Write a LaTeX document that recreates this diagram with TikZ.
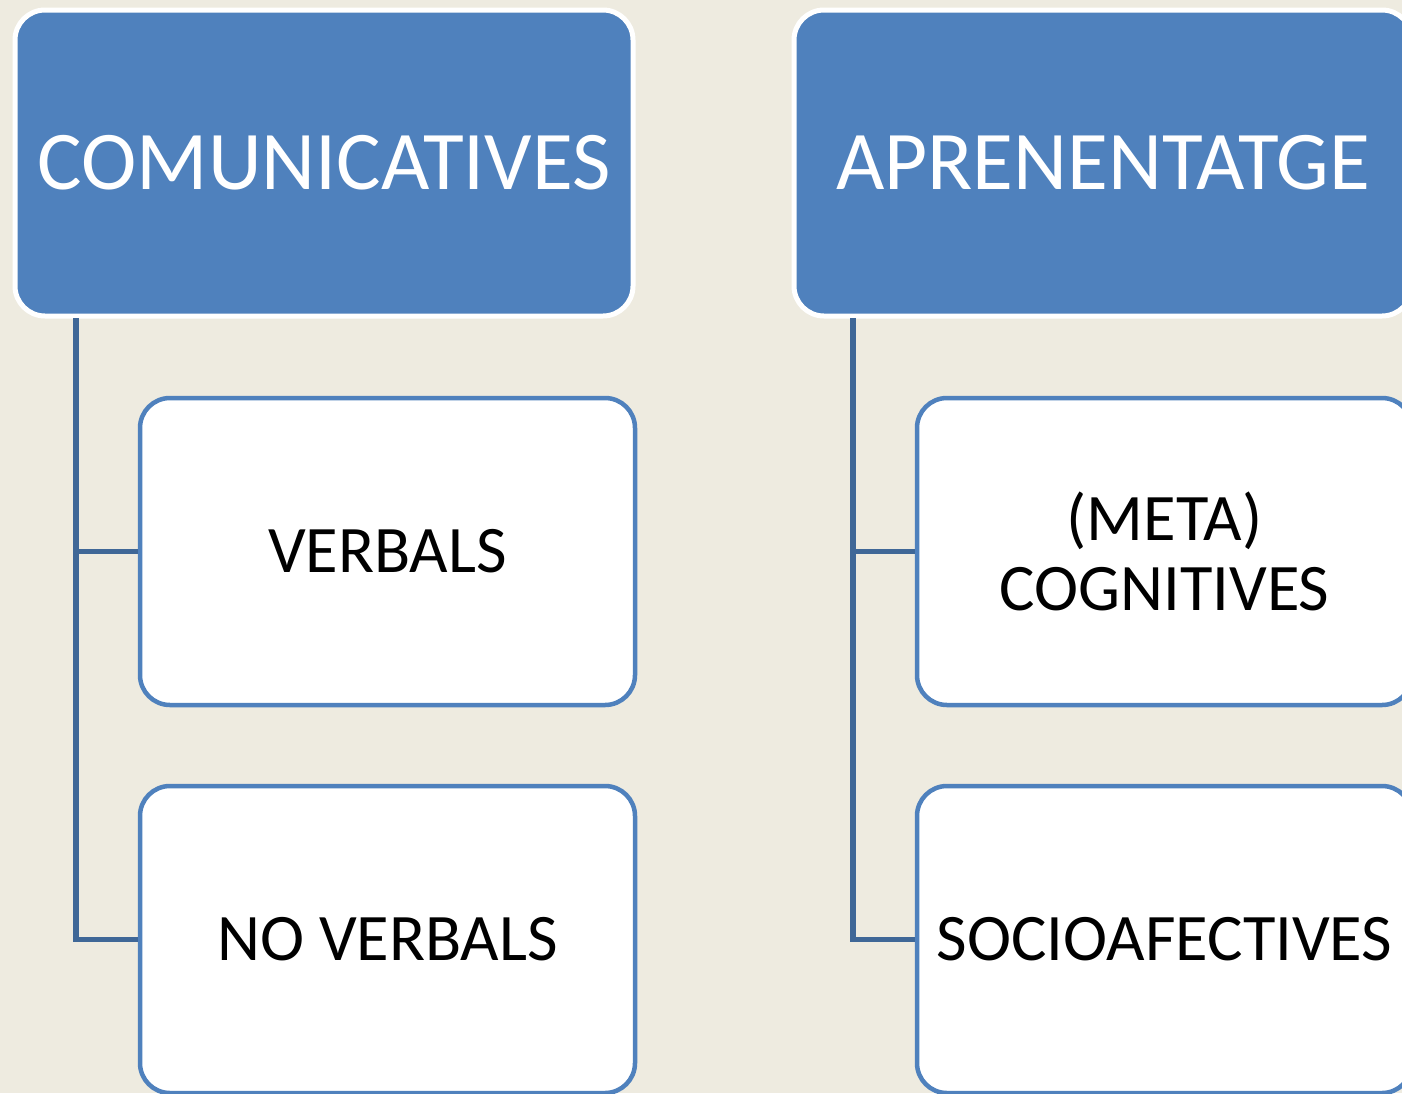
\documentclass[tikz,border=0pt]{standalone}
\usepackage{fontspec}
\setmainfont{Carlito}
\definecolor{bg}{HTML}{EEEBE0}
\definecolor{topblue}{HTML}{4F81BD}
\definecolor{linkblue}{HTML}{3F6797}
\begin{document}
\begin{tikzpicture}[x=1pt,y=-1pt,
  topbox/.style={draw=white,line width=5pt,fill=topblue,rounded corners=30pt,
    minimum width=618pt,minimum height=306pt,inner sep=0pt,text=white,
    font=\fontsize{83.5}{86}\selectfont},
  childbox/.style={draw=topblue,line width=4.5pt,fill=white,rounded corners=30pt,
    minimum width=495pt,minimum height=307pt,inner sep=0pt,text=black,align=center,
    font=\fontsize{66.5}{70}\selectfont},
  link/.style={draw=linkblue,line width=5.5pt}]
\useasboundingbox (0,0) rectangle (1402,1093);
\fill[bg] (0,0) rectangle (1402,1093);
\begin{scope}
\clip (0,0) rectangle (1402,1093);
\node[topbox] (com) at (324,163) {COMUNICATIVES};
\node[topbox] (apr) at (1103,163) {APRENENTATGE};
\coordinate (comstem) at (76,318);
\coordinate (aprstem) at (853,318);
\node[childbox] (verb) at (387.5,551.5) {VERBALS};
\node[childbox] (noverb) at (387.5,939.5) {NO VERBALS};
\node[childbox] (meta) at (1164.5,551.5) {(META)\\COGNITIVES};
\node[childbox] (socio) at (1164.5,939.5) {SOCIOAFECTIVES};
\draw[link] (comstem) |- (noverb.west);
\draw[link] (comstem |- verb.west) -- (verb.west);
\draw[link] (aprstem) |- (socio.west);
\draw[link] (aprstem |- meta.west) -- (meta.west);
\end{scope}
\end{tikzpicture}
\end{document}
